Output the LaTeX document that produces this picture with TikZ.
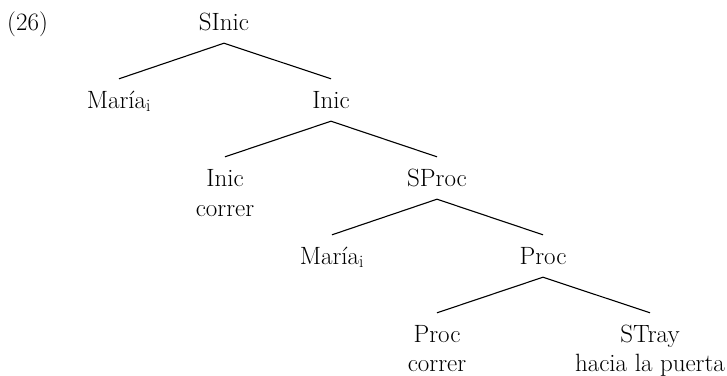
\documentclass[tikz,border=0pt]{standalone}
\usepackage{fontspec}
\begin{document}
\begin{tikzpicture}[x=1pt,y=-1pt,
  lbl/.style={anchor=base,inner xsep=0pt,inner ysep=13pt,text height=16pt,text depth=0pt,
    font=\fontsize{25}{30}\selectfont},
  plain/.style={anchor=base,inner sep=0pt,font=\fontsize{25}{30}\selectfont},
  edge/.style={line width=1.1pt}]
\useasboundingbox (0,0) rectangle (727,375);
\node[plain,anchor=base west] (num) at (7,30) {(26)};
\node[lbl] (sinic) at (224,30) {SInic};
\node[lbl] (maria1) at (119,108) {María$_{\mathrm{i}}$};
\node[lbl] (inic) at (331,108) {Inic};
\node[lbl] (inicleaf) at (225,186) {Inic};
\node[plain] (correr1) at (225,216) {correr};
\node[lbl] (sproc) at (437,186) {SProc};
\node[lbl] (maria2) at (332,264) {María$_{\mathrm{i}}$};
\node[lbl] (proc) at (543,264) {Proc};
\node[lbl] (procleaf) at (437,342) {Proc};
\node[plain] (correr2) at (437,371) {correr};
\node[lbl] (stray) at (650,342) {STray};
\node[plain] (hacia) at (650,371) {hacia la puerta};
\draw[edge] (maria1.north) -- (sinic.south) -- (inic.north);
\draw[edge] (inicleaf.north) -- (inic.south) -- (sproc.north);
\draw[edge] (maria2.north) -- (sproc.south) -- (proc.north);
\draw[edge] (procleaf.north) -- (proc.south) -- (stray.north);
\end{tikzpicture}
\end{document}
